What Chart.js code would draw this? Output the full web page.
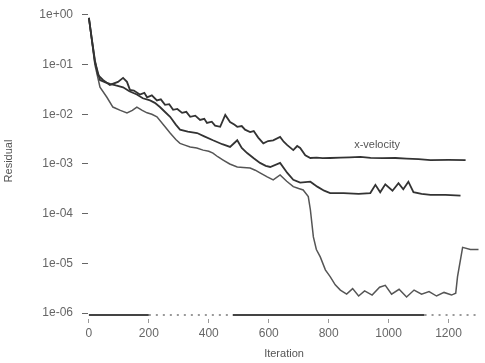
<!DOCTYPE html>
<html>
<head>
<meta charset="utf-8">
<script src="https://cdn.jsdelivr.net/npm/chart.js@4/dist/chart.umd.min.js"></script>
<style>
  html, body { margin: 0; padding: 0; background: #fff; }
  #wrap { width: 485px; height: 363px; }
</style>
</head>
<body>
<div id="wrap"><canvas id="residuals"></canvas></div>
<script>
// residual history per equation (iteration, residual)
const velIter = [0, 10, 20, 30, 47, 70, 97, 114, 127, 137, 150, 170, 185, 194, 210, 227, 240, 254, 268, 281, 295, 311, 325, 338, 355, 371, 385, 394, 410, 421, 438, 455, 471, 485, 495, 510, 521, 538, 550, 565, 582, 598, 615, 638, 650, 662, 682, 695, 705, 722, 739, 760, 780, 805, 840, 870, 906, 940, 980, 1023, 1060, 1100, 1140, 1200, 1257];
const velRes = [0.87, 0.32, 0.123, 0.062, 0.049, 0.039, 0.045, 0.054, 0.045, 0.031, 0.030, 0.025, 0.027, 0.022, 0.024, 0.019, 0.020, 0.0155, 0.016, 0.0123, 0.0128, 0.0107, 0.0112, 0.0089, 0.0094, 0.0077, 0.0081, 0.0067, 0.0071, 0.0059, 0.0056, 0.0097, 0.0070, 0.0062, 0.0056, 0.0058, 0.0049, 0.0044, 0.0046, 0.0034, 0.0026, 0.0029, 0.0030, 0.0035, 0.0028, 0.0024, 0.0019, 0.0023, 0.0021, 0.0015, 0.00132, 0.00134, 0.00131, 0.00132, 0.00134, 0.00136, 0.00139, 0.00133, 0.00131, 0.00132, 0.00128, 0.00125, 0.00120, 0.00121, 0.00120];

const enIter = [0, 20, 37, 55, 70, 90, 114, 135, 160, 180, 204, 220, 237, 255, 271, 290, 304, 330, 361, 385, 414, 445, 471, 495, 510, 528, 550, 571, 590, 605, 638, 662, 682, 705, 739, 762, 785, 805, 850, 900, 939, 956, 972, 989, 1013, 1033, 1049, 1066, 1083, 1110, 1140, 1190, 1240];
const enRes = [0.87, 0.114, 0.049, 0.044, 0.041, 0.038, 0.035, 0.029, 0.025, 0.021, 0.019, 0.017, 0.014, 0.011, 0.0089, 0.0062, 0.0049, 0.0045, 0.0042, 0.0036, 0.0030, 0.0025, 0.0022, 0.0030, 0.0021, 0.00166, 0.0013, 0.00105, 0.00092, 0.00087, 0.00105, 0.00066, 0.00048, 0.00042, 0.00044, 0.00035, 0.00029, 0.00026, 0.00026, 0.00025, 0.00026, 0.00038, 0.00027, 0.00039, 0.00029, 0.00041, 0.00031, 0.00044, 0.00027, 0.00025, 0.00024, 0.00024, 0.00023];

const conIter = [0, 20, 37, 60, 80, 105, 127, 145, 160, 178, 194, 210, 227, 250, 271, 290, 304, 320, 338, 360, 381, 400, 414, 430, 448, 470, 495, 515, 538, 555, 571, 595, 615, 638, 660, 682, 700, 715, 732, 739, 749, 759, 772, 789, 805, 822, 839, 860, 880, 900, 920, 945, 970, 989, 1010, 1035, 1060, 1085, 1110, 1135, 1160, 1185, 1210, 1224, 1230, 1247, 1273, 1300];
const conRes = [0.87, 0.10, 0.035, 0.022, 0.014, 0.012, 0.0107, 0.012, 0.014, 0.012, 0.0107, 0.010, 0.0089, 0.0060, 0.0042, 0.0031, 0.0026, 0.0024, 0.0022, 0.0021, 0.0019, 0.0018, 0.00166, 0.0014, 0.0012, 0.0010, 0.00087, 0.00085, 0.00083, 0.00075, 0.00066, 0.00055, 0.00048, 0.00060, 0.00045, 0.00035, 0.00032, 0.00030, 0.00022, 0.00012, 3.4e-5, 1.9e-5, 1.35e-5, 7.4e-6, 5.4e-6, 3.7e-6, 2.9e-6, 2.4e-6, 3.1e-6, 2.2e-6, 2.8e-6, 2.3e-6, 3.3e-6, 3.6e-6, 2.4e-6, 3.0e-6, 2.1e-6, 2.9e-6, 2.4e-6, 2.7e-6, 2.2e-6, 2.6e-6, 2.3e-6, 2.5e-6, 5.4e-6, 2.1e-5, 1.9e-5, 1.9e-5];

const floorIter = [0, 200, 480, 1120, 1295];
const floorRes = [9.1e-7, 9.1e-7, 9.1e-7, 9.1e-7, 9.1e-7];

const decades = [1, 1e-1, 1e-2, 1e-3, 1e-4, 1e-5, 1e-6];
const iterTicks = [0, 200, 400, 600, 800, 1000, 1200];

function pairs(xs, ys) {
  return xs.map((x, i) => ({ x: x, y: ys[i] }));
}

// 1e-03 style labels
function sci(v) {
  return Number(v).toExponential(0).replace(/e([+-])(\d)$/, 'e$10$2');
}

function series(label, xs, ys, extra) {
  return Object.assign({
    label: label,
    data: pairs(xs, ys),
    borderColor: '#333',
    borderWidth: 1.8,
    pointRadius: 0,
    tension: 0,
    fill: false
  }, extra || {});
}

function dimmed(c) {
  const x = c.p0.parsed.x;
  return (x >= 200 && x < 480) || x >= 1120;
}

// text tags sitting next to the curves
const curveTags = {
  id: 'curveTags',
  afterDatasetsDraw(chart) {
    const ctx = chart.ctx;
    const xs = chart.scales.x;
    const ys = chart.scales.y;
    ctx.save();
    ctx.fillStyle = '#555';
    ctx.font = '11px "Liberation Sans", Arial, sans-serif';
    ctx.textAlign = 'left';
    ctx.textBaseline = 'bottom';
    ctx.fillText('x-velocity', xs.getPixelForValue(885), ys.getPixelForValue(Math.pow(10, -2.72)));
    ctx.restore();
  }
};

const ctx = document.getElementById('residuals');
const chart = new Chart(ctx, {
  type: 'line',
  data: {
    datasets: [
      series('x-velocity', velIter, velRes),
      series('energy', enIter, enRes),
      series('continuity', conIter, conRes, { borderColor: '#555', borderWidth: 1.5 }),
      series('floor', floorIter, floorRes, {
        borderColor: '#444',
        borderWidth: 2,
        segment: {
          borderDash: (c) => dimmed(c) ? [2, 5] : undefined,
          borderColor: (c) => dimmed(c) ? '#999' : undefined
        }
      })
    ]
  },
  options: {
    responsive: true,
    maintainAspectRatio: false,
    animation: false,
    layout: { padding: { top: 3, right: 5, left: 2, bottom: 2 } },
    plugins: {
      legend: { display: false },
      tooltip: { enabled: false }
    },
    scales: {
      x: {
        type: 'linear',
        min: -3,
        max: 1305,
        afterBuildTicks: (scale) => {
          scale.ticks = iterTicks.map((v) => ({ value: v }));
        },
        afterFit: (scale) => {
          scale.height = 42;
          scale.paddingLeft = 0;
          scale.paddingRight = 0;
        },
        border: { display: false },
        grid: { drawOnChartArea: false, drawTicks: true, tickLength: 4, color: '#999' },
        ticks: {
          color: '#666',
          font: { family: '"Liberation Sans", Arial, sans-serif', size: 12 },
          padding: 3,
          maxRotation: 0,
          callback: (v) => String(v)
        },
        title: {
          display: true,
          text: 'Iteration',
          color: '#555',
          font: { family: '"Liberation Sans", Arial, sans-serif', size: 11 },
          padding: { top: 4, bottom: 0 }
        }
      },
      y: {
        type: 'logarithmic',
        min: Math.pow(10, -6.12),
        max: Math.pow(10, 0.24),
        afterBuildTicks: (scale) => {
          scale.ticks = decades.map((v) => ({ value: v }));
        },
        afterFit: (scale) => {
          scale.width = 86;
          scale.paddingTop = 0;
          scale.paddingBottom = 0;
        },
        border: { display: false },
        grid: { drawOnChartArea: false, drawTicks: true, tickLength: 6, color: '#666' },
        ticks: {
          color: '#666',
          font: { family: '"Liberation Sans", Arial, sans-serif', size: 12 },
          padding: 9,
          autoSkip: false,
          callback: (v) => sci(v)
        },
        title: {
          display: true,
          text: 'Residual',
          color: '#555',
          font: { family: '"Liberation Sans", Arial, sans-serif', size: 11 },
          padding: { top: 0, bottom: 0 }
        }
      }
    }
  },
  plugins: [curveTags]
});
</script>
</body>
</html>
